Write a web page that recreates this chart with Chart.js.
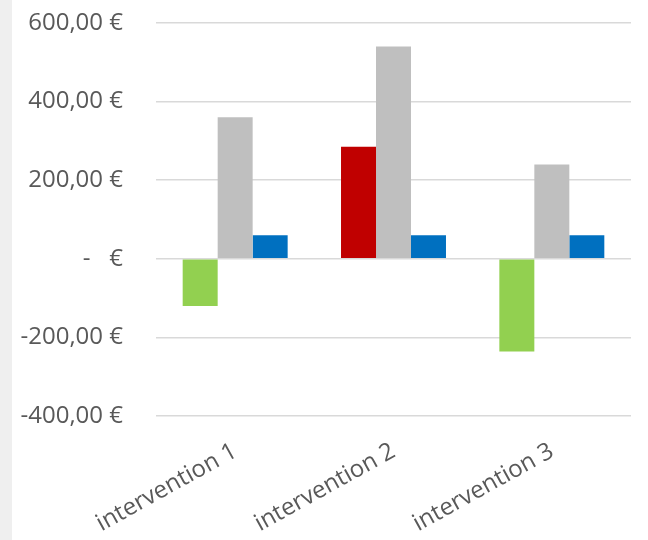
<!DOCTYPE html>
<html>
<head>
<meta charset="utf-8">
<script src="https://cdn.jsdelivr.net/npm/chart.js@4.4.1/dist/chart.umd.min.js"></script>
<style>
  html, body { margin: 0; padding: 0; background: #ffffff; }
  #wrap { width: 648px; height: 540px; position: relative; }
</style>
</head>
<body>
<div id="wrap"><canvas id="chart" width="648" height="540"></canvas></div>
<script>
// Categories and series values (euros)
const categories = ['intervention 1', 'intervention 2', 'intervention 3'];
const balance = [-120, 285, -236];   // green when negative, red when positive
const costs = [360, 540, 240];
const fees = [60, 60, 60];
const yTicks = [-400, -200, 0, 200, 400, 600];

const textColor = '#595959';
const fontFamily = '"Open Sans", "Noto Sans", sans-serif';

function euro(v) {
  if (v === 0) return '-   €';
  const s = Math.abs(v).toFixed(2).replace('.', ',');
  return (v < 0 ? '-' : '') + s + ' €';
}

// light strip along the left edge of the canvas
const leftStrip = {
  id: 'leftStrip',
  beforeDraw(chart) {
    const ctx = chart.ctx;
    ctx.save();
    ctx.fillStyle = '#efefef';
    ctx.fillRect(0, 0, 12, chart.height);
    ctx.restore();
  }
};

new Chart(document.getElementById('chart'), {
  type: 'bar',
  data: {
    labels: categories,
    datasets: [
      {
        data: balance,
        backgroundColor: balance.map(v => v < 0 ? '#92d050' : '#c00000')
      },
      { data: costs, backgroundColor: '#bfbfbf' },
      { data: fees, backgroundColor: '#0070c0' }
    ]
  },
  options: {
    responsive: false,
    animation: false,
    events: [],
    layout: { padding: { top: 23, right: 17, bottom: 0, left: 0 } },
    plugins: { legend: { display: false }, tooltip: { enabled: false } },
    datasets: { bar: { categoryPercentage: 0.663, barPercentage: 1.0 } },
    scales: {
      x: {
        grid: { display: false, drawTicks: false },
        border: { display: false },
        ticks: {
          color: textColor,
          font: { family: fontFamily, size: 24 },
          minRotation: 29,
          maxRotation: 29,
          padding: 21
        },
        afterFit(scale) {
          scale.height = 124;
          scale.paddingTop = 0;
          scale.paddingBottom = 0;
        }
      },
      y: {
        min: -400,
        max: 600,
        afterBuildTicks(scale) { scale.ticks = yTicks.map(v => ({ value: v })); },
        grid: { color: '#d9d9d9', lineWidth: 1.5, drawTicks: false },
        border: { display: false },
        ticks: {
          color: textColor,
          font: { family: fontFamily, size: 24 },
          padding: 33,
          callback: v => euro(v)
        },
        afterFit(scale) {
          scale.width = 156;
          scale.paddingTop = 0;
          scale.paddingBottom = 0;
        }
      }
    }
  },
  plugins: [leftStrip]
});
</script>
</body>
</html>
